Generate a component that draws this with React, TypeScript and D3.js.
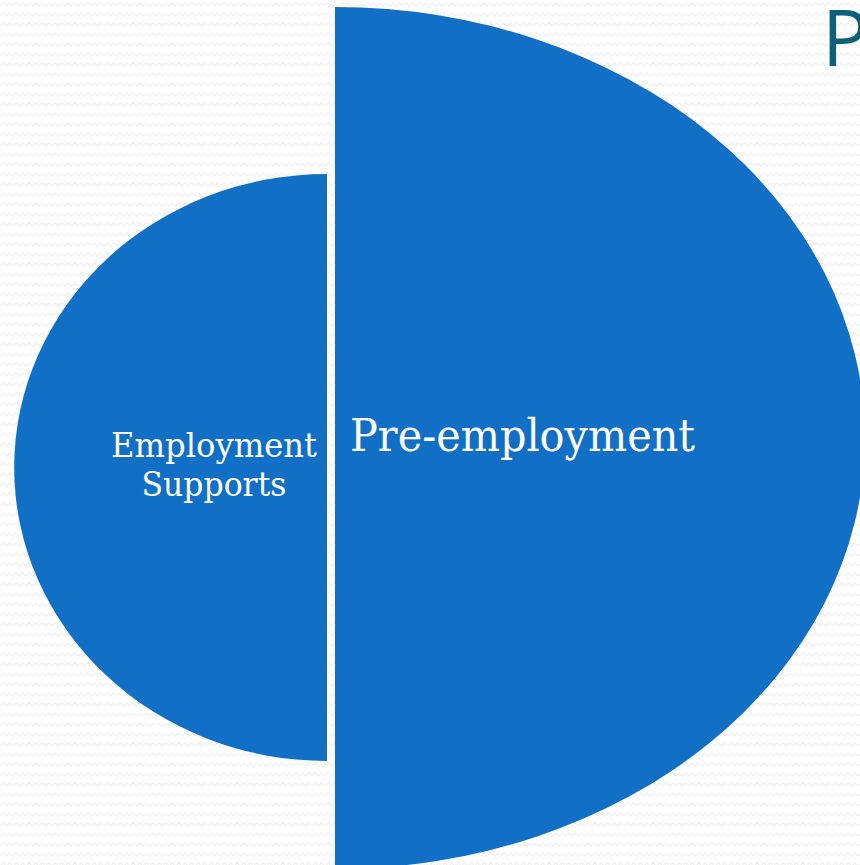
import React from "react";
import * as d3 from "d3";

const categories = ["Employment Supports", "Pre-employment"];
const values = [68, 100];
const labelLines = [["Employment", "Supports"], ["Pre-employment"]];
const titleText = "P";

const W = 860;
const H = 865;

export default function App() {
  const rScaleX = d3.scaleLinear().domain([0, 100]).range([0, 530]);
  const rScaleY = d3.scaleLinear().domain([0, 100]).range([0, 431]);
  const halfArc = d3.arc<any>().innerRadius(0).outerRadius(1);
  const leftPath = halfArc({ startAngle: Math.PI, endAngle: 2 * Math.PI }) as string;
  const rightPath = halfArc({ startAngle: 0, endAngle: Math.PI }) as string;

  const shapes = [
    { cx: 327, cy: 467.5, rx: rScaleX(values[0]) * 0.868, ry: rScaleY(values[0]) * 1.0015, path: leftPath },
    { cx: 335, cy: 438, rx: rScaleX(values[1]), ry: rScaleY(values[1]), path: rightPath },
  ];

  const serif = "'DejaVu Serif', 'Liberation Serif', serif";

  return (
    <svg width={W} height={H} style={{ position: "absolute", left: 0, top: 0 }}>
      <defs>
        <pattern id="wave" width="13" height="10" patternUnits="userSpaceOnUse">
          <rect width="13" height="10" fill="#ffffff" />
          <path d="M0,6 L3.25,3 L6.5,6 L9.75,3 L13,6" fill="none" stroke="#f1f1f1" strokeWidth="1.5" />
        </pattern>
      </defs>
      <rect width={W} height={H} fill="url(#wave)" />
      {shapes.map((s, i) => (
        <path
          key={categories[i]}
          d={s.path}
          transform={`translate(${s.cx},${s.cy}) scale(${s.rx},${s.ry})`}
          fill="#1170C5"
        />
      ))}
      <text textAnchor="middle" fill="#ffffff" fontFamily={serif} fontSize={34}>
        <tspan x={214} y={457} textLength={206} lengthAdjust="spacingAndGlyphs">{labelLines[0][0]}</tspan>
        <tspan x={214} y={496} textLength={145} lengthAdjust="spacingAndGlyphs">{labelLines[0][1]}</tspan>
      </text>
      <text
        x={350}
        y={451}
        fill="#ffffff"
        fontFamily={serif}
        fontSize={44}
        textLength={345}
        lengthAdjust="spacingAndGlyphs"
      >
        {labelLines[1][0]}
      </text>
      <text
        x={822}
        y={66}
        fill="#0E5F7A"
        fontFamily="'Open Sans', 'Noto Sans', sans-serif"
        fontSize={78}
      >
        {titleText}
      </text>
    </svg>
  );
}
